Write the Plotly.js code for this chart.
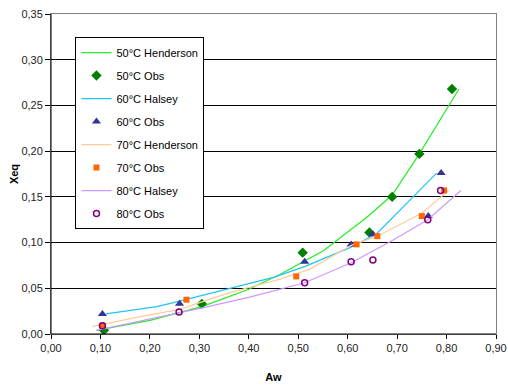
<!DOCTYPE html>
<html>
<head>
<meta charset="utf-8">
<script src="https://cdn.plot.ly/plotly-3.0.1.min.js"></script>
<style>html,body{margin:0;padding:0;background:#fff;}#chart{width:508px;height:386px;}</style>
</head>
<body>
<div id="chart"></div>
<script>
// Model curves
const henderson50Aw = [0.092, 0.20, 0.305, 0.40, 0.463, 0.551, 0.642, 0.690, 0.745, 0.825];
const henderson50X  = [0.004, 0.015, 0.030, 0.049, 0.065, 0.091, 0.129, 0.152, 0.197, 0.268];
const halsey60Aw = [0.111, 0.214, 0.260, 0.35, 0.45, 0.514, 0.607, 0.659, 0.733, 0.780];
const halsey60X  = [0.022, 0.030, 0.036, 0.048, 0.062, 0.074, 0.095, 0.110, 0.150, 0.176];
const henderson70Aw = [0.084, 0.17, 0.260, 0.36, 0.463, 0.524, 0.607, 0.660, 0.750, 0.804];
const henderson70X  = [0.008, 0.018, 0.027, 0.045, 0.060, 0.071, 0.097, 0.107, 0.132, 0.157];
const halsey80Aw = [0.092, 0.18, 0.260, 0.301, 0.40, 0.463, 0.513, 0.607, 0.686, 0.762, 0.829];
const halsey80X  = [0.004, 0.014, 0.023, 0.028, 0.040, 0.049, 0.056, 0.078, 0.101, 0.125, 0.157];
// Observations
const obs50Aw = [0.107, 0.305, 0.509, 0.644, 0.690, 0.745, 0.811];
const obs50X  = [0.004, 0.033, 0.089, 0.111, 0.150, 0.197, 0.268];
const obs60Aw = [0.104, 0.260, 0.513, 0.607, 0.651, 0.763, 0.789];
const obs60X  = [0.022, 0.033, 0.079, 0.098, 0.109, 0.129, 0.176];
const obs70Aw = [0.104, 0.274, 0.496, 0.618, 0.660, 0.750, 0.795];
const obs70X  = [0.009, 0.0375, 0.063, 0.098, 0.107, 0.129, 0.157];
const obs80Aw = [0.104, 0.259, 0.513, 0.607, 0.651, 0.762, 0.788];
const obs80X  = [0.009, 0.024, 0.056, 0.079, 0.081, 0.125, 0.157];
const yTicks = [0, 0.05, 0.10, 0.15, 0.20, 0.25, 0.30, 0.35];
const xTicks = [0, 0.1, 0.2, 0.3, 0.4, 0.5, 0.6, 0.7, 0.8, 0.9];

function line(x, y, name, color, g) {
  return {x, y, name, type: 'scatter', mode: 'lines', legendgroup: g,
    line: {color, width: 1.2}, hoverinfo: 'skip'};
}
function pts(x, y, name, symbol, color, size, g, open) {
  return {x, y, name, type: 'scatter', mode: 'markers', legendgroup: g,
    marker: open ? {symbol, size, color: 'rgba(0,0,0,0)', line: {color, width: 1.5}}
                 : {symbol, size, color, line: {width: 0}}, hoverinfo: 'skip'};
}
const data = [
  line(henderson50Aw, henderson50X, '50°C Henderson', '#22EE22', 'a'),
  pts(obs50Aw, obs50X, '50°C Obs', 'diamond', '#007F00', 8, 'b'),
  line(halsey60Aw, halsey60X, '60°C Halsey', '#22C4F5', 'c'),
  pts(obs60Aw, obs60X, '60°C Obs', 'triangle-up', '#333399', 8, 'd'),
  line(henderson70Aw, henderson70X, '70°C Henderson', '#FFCC99', 'e'),
  pts(obs70Aw, obs70X, '70°C Obs', 'square', '#FF6600', 6, 'f'),
  line(halsey80Aw, halsey80X, '80°C Halsey', '#CC99FF', 'g'),
  pts(obs80Aw, obs80X, '80°C Obs', 'circle', '#800080', 6, 'h', true)
];
const layout = {
  width: 508, height: 386,
  margin: {l: 51, r: 12, t: 14, b: 52},
  paper_bgcolor: '#fff', plot_bgcolor: '#fff',
  separators: ',.',
  font: {family: 'Liberation Sans, Arial, sans-serif', size: 11, color: '#000'},
  showlegend: true,
  legend: {x: 0.055, y: 0.928, xanchor: 'left', yanchor: 'top',
    bgcolor: '#fff', bordercolor: '#000', borderwidth: 1,
    font: {size: 11, color: '#000'}, tracegroupgap: 4, itemwidth: 30},
  xaxis: {range: [0, 0.9], tickvals: xTicks, tickformat: '.2f',
    showgrid: false, zeroline: false, showline: true, linecolor: '#808080', linewidth: 1,
    mirror: true, ticks: 'outside', ticklen: 4, tickcolor: '#000',
    tickfont: {size: 11, color: '#222'},
    title: {text: '<b>Aw</b>', font: {size: 11}, standoff: 20}},
  yaxis: {range: [0, 0.35], tickvals: yTicks, tickformat: '.2f',
    showgrid: true, gridcolor: '#000', gridwidth: 1, zeroline: false,
    showline: true, linecolor: '#808080', linewidth: 1, mirror: true,
    ticks: 'outside', ticklen: 5, tickcolor: '#000',
    tickfont: {size: 11, color: '#222'},
    title: {text: '<b>Xeq</b>', font: {size: 11}, standoff: 0}},
  shapes: [
    {type: 'line', xref: 'paper', yref: 'paper', x0: 0, x1: 0, y0: 0, y1: 1, line: {color: '#000', width: 1}},
    {type: 'line', xref: 'paper', yref: 'paper', x0: 0, x1: 1, y0: 0, y1: 0, line: {color: '#000', width: 1}}
  ]
};
Plotly.newPlot('chart', data, layout, {displayModeBar: false, staticPlot: true});
</script>
</body>
</html>
